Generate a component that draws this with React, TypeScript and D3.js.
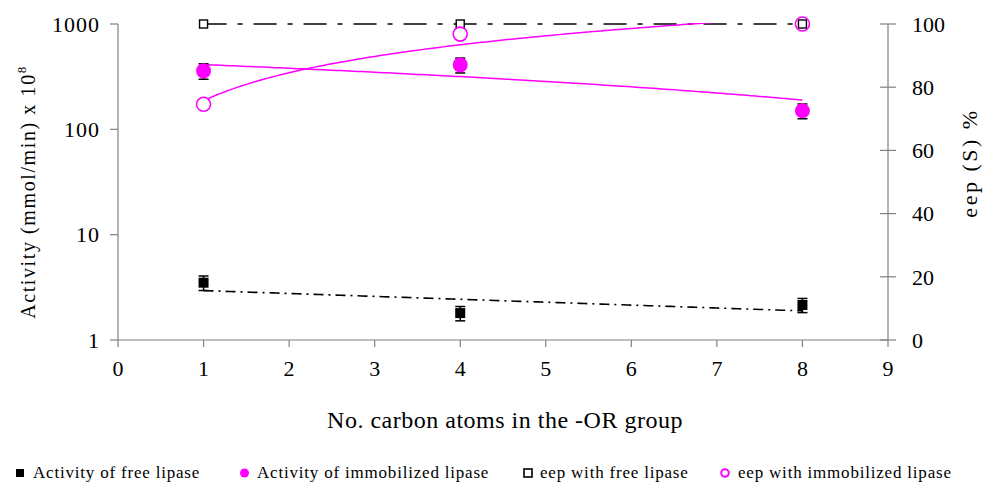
import React from "react";
import * as d3 from "d3";

// data
const carbons = [1, 4, 8];
const freeActivity = [3.5, 1.8, 2.15];
const freeActivityErr = [0.55, 0.28, 0.33];
const immobActivity = [359, 409, 150];
const immobActivityErr = [60, 66, 24];
const eepFree = [100, 100, 100];
const eepImmob = [74.6, 96.8, 100];

const xTicks = [0, 1, 2, 3, 4, 5, 6, 7, 8, 9];
const leftTicks = [1, 10, 100, 1000];
const rightTicks = [0, 20, 40, 60, 80, 100];
const legendLabels = [
  "Activity of free lipase",
  "Activity of immobilized lipase",
  "eep with free lipase",
  "eep with immobilized lipase",
];

const MAGENTA = "#ff00ff";
const AXIS = "#808080";
const FONT = "'Liberation Serif', 'Times New Roman', serif";

// least squares helpers for the trendlines
const linreg = (xs: number[], ys: number[]) => {
  const mx = d3.mean(xs)!;
  const my = d3.mean(ys)!;
  let sxy = 0;
  let sxx = 0;
  xs.forEach((x, i) => {
    sxy += (x - mx) * (ys[i] - my);
    sxx += (x - mx) * (x - mx);
  });
  const b = sxy / sxx;
  return { a: my - b * mx, b };
};
const linFit = (xs: number[], ys: number[]) => {
  const { a, b } = linreg(xs, ys);
  return (x: number) => a + b * x;
};
const expFit = (xs: number[], ys: number[]) => {
  const { a, b } = linreg(xs, ys.map(Math.log));
  return (x: number) => Math.exp(a + b * x);
};
const logFit = (xs: number[], ys: number[]) => {
  const { a, b } = linreg(xs.map(Math.log), ys);
  return (x: number) => a + b * Math.log(x);
};

const App = () => {
  const width = 983;
  const height = 483;
  const left = 118;
  const right = 888;
  const top = 24;
  const bottom = 340;

  const x = d3.scaleLinear().domain([0, 9]).range([left, right]);
  const yL = d3.scaleLog().domain([1, 1000]).range([bottom, top]);
  const yR = d3.scaleLinear().domain([0, 100]).range([bottom, top]);

  const samples = d3.range(1, 8.0001, 0.05);
  const fFree = expFit(carbons, freeActivity);
  const fImmob = linFit(carbons, immobActivity);
  const fEepImmob = logFit(carbons, eepImmob);

  const freeTrend = d3
    .line<number>()
    .x((d) => x(d))
    .y((d) => yL(fFree(d)))(samples);
  const immobTrend = d3
    .line<number>()
    .x((d) => x(d))
    .y((d) => yL(fImmob(d)))(samples);
  const eepImmobTrend = d3
    .line<number>()
    .x((d) => x(d))
    .y((d) => yR(fEepImmob(d)))(samples);
  const eepFreeTrend = d3
    .line<number>()
    .x((d) => x(d))
    .y(() => yR(eepFree[0]))([carbons[0], carbons[carbons.length - 1]]);

  const errBar = (cx: number, y1: number, y2: number, key: string) => (
    <g key={key} stroke="#000" strokeWidth={1.5}>
      <line x1={cx} x2={cx} y1={y1} y2={y2} />
      <line x1={cx - 5} x2={cx + 5} y1={y1} y2={y1} />
      <line x1={cx - 5} x2={cx + 5} y1={y2} y2={y2} />
    </g>
  );

  const legendX = [16, 240, 523, 721];
  const legendY = 478;

  return (
    <svg
      width={width}
      height={height}
      style={{ position: "absolute", left: 0, top: 0, fontFamily: FONT }}
    >
      <rect width={width} height={height} fill="#fff" />
      <defs>
        <clipPath id="plot">
          <rect x={left} y={top - 1} width={right - left} height={bottom - top + 1} />
        </clipPath>
      </defs>

      {/* axes */}
      <g stroke={AXIS} strokeWidth={1.2}>
        <line x1={left} x2={left} y1={top} y2={bottom} />
        <line x1={right} x2={right} y1={top} y2={bottom} />
        <line x1={left} x2={right} y1={bottom} y2={bottom} />
        {leftTicks.map((t) => (
          <line key={"lt" + t} x1={left - 8} x2={left} y1={yL(t)} y2={yL(t)} />
        ))}
        {rightTicks.map((t) => (
          <line key={"rt" + t} x1={right - 8} x2={right + 8} y1={yR(t)} y2={yR(t)} />
        ))}
        {xTicks.map((t) => (
          <line key={"xt" + t} x1={x(t)} x2={x(t)} y1={bottom} y2={bottom + 7} />
        ))}
      </g>
      <g fontSize={22} fill="#000">
        {leftTicks.map((t) => (
          <text key={"ll" + t} x={left - 18} y={yL(t)} dy="0.35em" textAnchor="end" letterSpacing={1}>
            {t}
          </text>
        ))}
        {rightTicks.map((t) => (
          <text key={"rl" + t} x={right + 24} y={yR(t)} dy="0.35em" textAnchor="start">
            {t}
          </text>
        ))}
        {xTicks.map((t) => (
          <text key={"xl" + t} x={x(t)} y={bottom + 36} textAnchor="middle">
            {t}
          </text>
        ))}
      </g>

      <text
        transform={`translate(35, 192) rotate(-90)`}
        textAnchor="middle"
        fontSize={20}
        letterSpacing={1.6}
      >
        Activity (mmol/min) x 10
        <tspan dy={-9} fontSize={13}>
          8
        </tspan>
      </text>
      <text
        transform={`translate(977, 163) rotate(-90)`}
        textAnchor="middle"
        fontSize={22}
        letterSpacing={2.5}
      >
        eep (S) %
      </text>
      <text x={(left + right) / 2 + 2} y={428} textAnchor="middle" fontSize={24} letterSpacing={0.5}>
        No. carbon atoms in the -OR group
      </text>

      {/* trendlines */}
      <g clipPath="url(#plot)" fill="none">
        <path d={eepFreeTrend!} stroke="#000" strokeWidth={1.6} strokeDasharray="23,11,5,11" />
        <path d={freeTrend!} stroke="#000" strokeWidth={1.6} strokeDasharray="10,5,2,5" />
        <path d={immobTrend!} stroke={MAGENTA} strokeWidth={1.5} />
        <path d={eepImmobTrend!} stroke={MAGENTA} strokeWidth={1.5} />
      </g>

      {/* error bars */}
      {carbons.map((c, i) =>
        errBar(x(c), yL(freeActivity[i] + freeActivityErr[i]), yL(freeActivity[i] - freeActivityErr[i]), "fe" + i)
      )}
      {carbons.map((c, i) =>
        errBar(x(c), yL(immobActivity[i] + immobActivityErr[i]), yL(immobActivity[i] - immobActivityErr[i]), "ie" + i)
      )}

      {/* markers */}
      {carbons.map((c, i) => (
        <rect key={"fa" + i} x={x(c) - 5} y={yL(freeActivity[i]) - 5} width={10} height={10} fill="#000" />
      ))}
      {carbons.map((c, i) => (
        <circle key={"ia" + i} cx={x(c)} cy={yL(immobActivity[i])} r={7.5} fill={MAGENTA} />
      ))}
      {carbons.map((c, i) => (
        <rect
          key={"ef" + i}
          x={x(c) - 4}
          y={yR(eepFree[i]) - 4}
          width={8}
          height={8}
          fill="#fff"
          stroke="#000"
          strokeWidth={1.4}
        />
      ))}
      {carbons.map((c, i) => (
        <circle
          key={"ei" + i}
          cx={x(c)}
          cy={yR(eepImmob[i])}
          r={7}
          fill={i === carbons.length - 1 ? "none" : "#fff"}
          stroke={MAGENTA}
          strokeWidth={1.6}
        />
      ))}

      {/* legend */}
      <g fontSize={17} letterSpacing={0.8}>
        <rect x={legendX[0]} y={legendY - 9} width={8} height={8} fill="#000" />
        <circle cx={legendX[1] + 4.5} cy={legendY - 5} r={4.5} fill={MAGENTA} />
        <rect x={legendX[2] + 1} y={legendY - 9} width={8} height={8} fill="#fff" stroke="#000" strokeWidth={1.6} />
        <circle cx={legendX[3] + 4} cy={legendY - 5} r={3.8} fill="none" stroke={MAGENTA} strokeWidth={2} />
        {legendLabels.map((l, i) => (
          <text key={l} x={legendX[i] + 17} y={legendY}>
            {l}
          </text>
        ))}
      </g>
    </svg>
  );
};

export default App;
